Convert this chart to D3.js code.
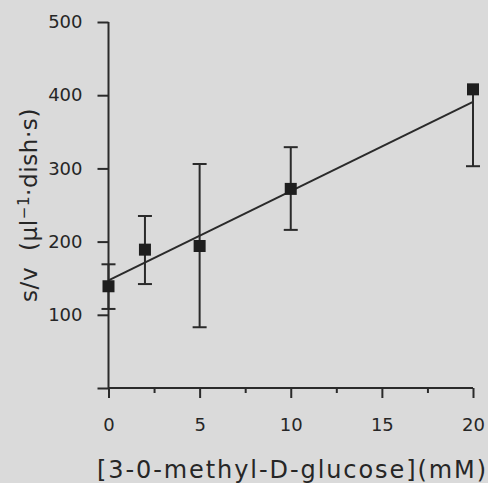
<!DOCTYPE html>
<html>
<head>
<meta charset="utf-8">
<script src="https://cdn.jsdelivr.net/npm/d3@7"></script>
<style>
  body { margin: 0; background: #dadada; }
  svg { display: block; }
  text { font-family: "DejaVu Sans", "Liberation Sans", sans-serif; fill: #262626; }
</style>
</head>
<body>
<div id="chart"></div>
<script>
// glucose concentration (mM) and s/v values
const conc = [0, 2, 5, 10, 20];
const sv = [139, 189, 194, 272, 408];
const errUp = [30, 46, 112, 57, 0];
const errDown = [31, 47, 111, 56, 105];
// regression line end points
const fitX = [0, 20];
const fitY = [147, 391];
const xTicks = [0, 5, 10, 15, 20];
const xMinor = [2.5, 7.5, 12.5, 17.5];
const yTicks = [0, 100, 200, 300, 400, 500];

function PlotChart(parent_element) {
  const width = 488, height = 483;
  const svg = d3.select(`#${parent_element}`)
    .append("svg")
    .attr("width", width)
    .attr("height", height);

  const x = d3.scaleLinear().domain([0, 20]).range([108.5, 473]);
  const y = d3.scaleLinear().domain([0, 500]).range([388, 22]);
  const ink = "#2a2a2a";

  // axes
  const xAxis = d3.axisBottom(x).tickValues(xTicks).tickSize(10).tickPadding(20);
  const gx = svg.append("g").attr("transform", `translate(0,${y(0)})`).call(xAxis);
  const gm = svg.append("g").attr("transform", `translate(0,${y(0)})`)
    .call(d3.axisBottom(x).tickValues(xMinor).tickSize(5).tickFormat(""));

  const yAxis = d3.axisLeft(y).tickValues(yTicks).tickSize(11).tickPadding(15)
    .tickFormat(d => d === 0 ? "" : d);
  const gy = svg.append("g").attr("transform", `translate(${x(0)},0)`).call(yAxis);

  [gx, gm, gy].forEach(g => {
    g.select(".domain").remove();
    g.selectAll(".tick line").attr("stroke", ink).attr("stroke-width", 2);
    g.selectAll(".tick text").attr("font-size", 18).attr("font-family", null).attr("fill", ink);
  });
  svg.append("line")
    .attr("x1", x(0)).attr("x2", x(20)).attr("y1", y(0)).attr("y2", y(0))
    .attr("stroke", ink).attr("stroke-width", 2);
  svg.append("line")
    .attr("x1", x(0)).attr("x2", x(0)).attr("y1", y(0)).attr("y2", y(500))
    .attr("stroke", ink).attr("stroke-width", 2);

  // regression line
  const line = d3.line().x(d => x(d[0])).y(d => y(d[1]));
  svg.append("path")
    .datum(fitX.map((v, i) => [v, fitY[i]]))
    .attr("fill", "none")
    .attr("stroke", ink)
    .attr("stroke-width", 2)
    .attr("d", line);

  // error bars
  const capW = 7;
  conc.forEach((c, i) => {
    const cx = x(c);
    const top = y(sv[i] + errUp[i]);
    const bot = y(sv[i] - errDown[i]);
    svg.append("line")
      .attr("x1", cx).attr("x2", cx).attr("y1", top).attr("y2", bot)
      .attr("stroke", ink).attr("stroke-width", 2);
    if (errUp[i] > 0) {
      svg.append("line")
        .attr("x1", cx - capW).attr("x2", cx + capW).attr("y1", top).attr("y2", top)
        .attr("stroke", ink).attr("stroke-width", 2);
    }
    svg.append("line")
      .attr("x1", cx - capW).attr("x2", cx + capW).attr("y1", bot).attr("y2", bot)
      .attr("stroke", ink).attr("stroke-width", 2);
  });

  // markers
  const size = 12;
  svg.selectAll("rect.pt")
    .data(conc)
    .join("rect")
    .attr("class", "pt")
    .attr("x", d => x(d) - size / 2)
    .attr("y", (d, i) => y(sv[i]) - size / 2)
    .attr("width", size)
    .attr("height", size)
    .attr("fill", "#1e1e1e");

  // axis titles
  svg.append("text")
    .attr("x", 97)
    .attr("y", 478)
    .attr("font-size", 24)
    .attr("textLength", 389)
    .attr("lengthAdjust", "spacing")
    .text("[3-0-methyl-D-glucose](mM)");

  const yl = svg.append("text")
    .attr("transform", "translate(37,302) rotate(-90)")
    .attr("font-size", 23)
    .style("white-space", "pre")
    .style("letter-spacing", "0.6px");
  yl.append("tspan").text("s/v  (μl");
  yl.append("tspan").attr("dy", -8).attr("font-size", 15).text("−1");
  yl.append("tspan").attr("dy", 8).text("·dish·s)");
}

document.addEventListener('DOMContentLoaded', (event) => {
  PlotChart("chart");
});
</script>
</body>
</html>
